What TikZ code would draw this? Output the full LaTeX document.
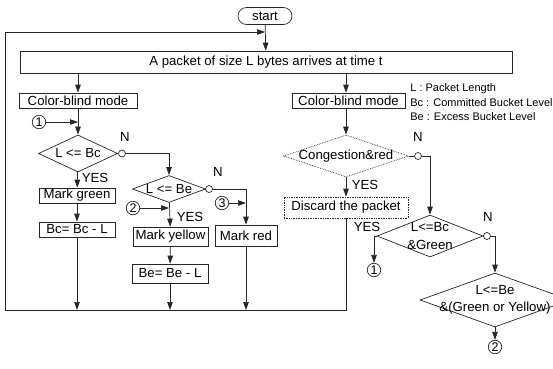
\documentclass[tikz,border=0pt]{standalone}
\usepackage{fontspec}
\setmainfont{Liberation Sans}
\usetikzlibrary{arrows.meta,shapes.geometric,shapes.misc}
\begin{document}
\begin{tikzpicture}[x=1pt,y=-1pt,>={Triangle[length=8pt,width=5.5pt]},font=\fontsize{13.2}{17.5}\selectfont,line width=0.7pt,draw=black!85]
\tikzstyle{bx}=[draw,inner sep=0pt,minimum height=15pt]
\tikzstyle{dm}=[draw,diamond,inner sep=0pt]
\tikzstyle{cir}=[draw,circle,inner sep=0pt,minimum size=13.5pt,font=\fontsize{12.5}{12}\selectfont]
\tikzstyle{oc}=[draw,circle,inner sep=0pt,minimum size=7pt]
\tikzstyle{dt}=[densely dotted]
\useasboundingbox (0,0) rectangle (553,368); \clip (0,0) rectangle (553,368);
\node[draw,rounded rectangle,inner sep=0pt,minimum width=54pt,minimum height=17pt] (start) at (265,16) {start};
\node[bx,minimum width=492pt,minimum height=22pt] (arr) at (266,62) {A packet of size L bytes arrives at time t};
\node[bx,minimum width=118pt] (cbl) at (78,100.5) {Color-blind mode};
\node[bx,minimum width=113pt] (cbr) at (348.5,100.5) {Color-blind mode};
\node[anchor=west,inner sep=0pt,align=left,font=\fontsize{11}{14.5}\selectfont] (lg) at (410,102.5) {L : Packet Length\\Bc : Committed Bucket Level\\Be : Excess Bucket Level};
\node[cir] (c1) at (39,122) {1};
\node[dm,minimum width=79pt,minimum height=37pt,label=center:{L <= Bc}] (d1) at (78,153.5) {};
\node[oc] (o1) at (122,153.5) {}; \node (n1) at (125,137) {N}; \node (y1) at (95,178) {YES};
\node[bx,minimum width=76pt] (mg) at (77,195.5) {Mark green};
\node[bx,minimum width=76pt] (bc) at (77,229.5) {Bc= Bc - L};
\node[dm,minimum width=73pt,minimum height=27pt,label=center:{L <= Be}] (d2) at (169,189) {};
\node[oc] (o2) at (209,189) {}; \node (n2) at (218,172) {N}; \node (y2) at (190,217) {YES};
\node[cir] (c2) at (133,208) {2}; \node[cir] (c3) at (222,203) {3};
\node[bx,minimum width=75pt,minimum height=19pt] (my) at (170.5,236.5) {Mark yellow};
\node[bx,minimum width=62pt,minimum height=21pt] (mr) at (246,235.5) {Mark red};
\node[bx,minimum width=76pt,minimum height=19pt] (be) at (170,273.5) {Be= Be - L};
\node[dm,dt,minimum width=125pt,minimum height=42pt,label=center:{Congestion\&red}] (cg) at (346,156) {};
\node[oc] (o3) at (418,156) {}; \node (n3) at (418,137) {N}; \node (y3) at (365,185) {YES};
\node[bx,dt,minimum width=124pt,minimum height=21pt] (dis) at (346,207.5) {Discard the packet};
\node[dm,minimum width=106pt,minimum height=42pt,label={[align=center]center:L<=Bc\\\&Green}] (d3) at (430,236) {};
\node[oc] (o4) at (487,236) {}; \node (n4) at (488,217) {N}; \node (y4) at (367,227) {YES};
\node[cir] (c1r) at (374,270) {1};
\node[dm,minimum width=150pt,minimum height=54pt,label={[align=center]center:L<=Be\\\&(Green or Yellow)}] (d4) at (495,300) {};
\node[cir] (c2r) at (495,347) {2};
\coordinate (bl) at (5,310); \coordinate (tl) at (5,32);
\draw[->] (start) -- (arr); \draw[->] (dis) -- (dis |- bl) -- (bl) -- (tl) -- (tl -| start);
\draw[->] (arr.south -| cbl) -- (cbl); \draw[->] (cbl) -- (d1); \draw[->] (c1) -- (c1 -| d1);
\draw (d1.east) -- (o1); \draw[->] (o1) -| (d2); \draw[->] (d1) -- (mg); \draw[->] (mg) -- (bc);
\draw (d2.east) -- (o2); \draw[->] (o2) -| (mr); \draw[->] (c2) -- (c2 -| d2); \draw[->] (c3) -- (c3 -| mr);
\draw[->] (d2) -- (my); \draw[->] (my) -- (be);
\draw[->] (bc) -- (bc |- bl); \draw[->] (be) -- (be |- bl); \draw[->] (mr) -- (mr |- bl);
\draw[->] (arr.south -| cg) -- (cbr.north -| cg); \draw[->] (cbr.south -| cg) -- (cg); \draw[->] (cg) -- (dis);
\draw (cg.east) -- (o3); \draw[->] (o3) -| (d3); \draw[->] (d3.west) -| (c1r);
\draw (d3.east) -- (o4); \draw[->] (o4) -| (d4); \draw[->] (d4) -- (c2r);
\end{tikzpicture}
\end{document}
